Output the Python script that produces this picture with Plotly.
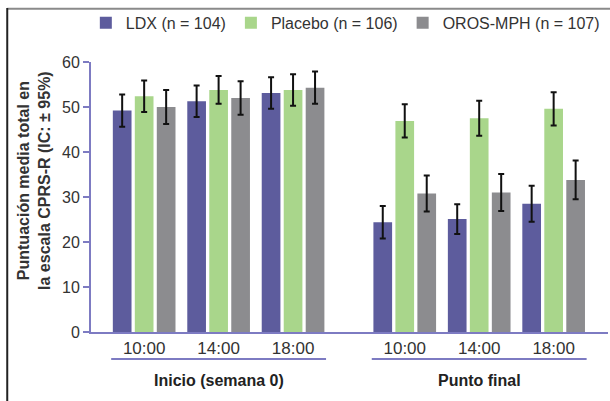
import plotly.graph_objects as go

# ---- data ----
groups = ["Inicio (semana 0)", "Punto final"]
times = ["10:00", "14:00", "18:00"]
series_names = ["LDX (n = 104)", "Placebo (n = 106)", "OROS-MPH (n = 107)"]
ldx = [49.2, 51.3, 53.1, 24.4, 25.1, 28.5]
ldx_err = [3.6, 3.5, 3.5, 3.6, 3.3, 4.0]
placebo = [52.4, 53.8, 53.8, 46.9, 47.5, 49.6]
placebo_err = [3.5, 3.1, 3.5, 3.7, 3.9, 3.7]
oros = [50.0, 52.0, 54.3, 30.8, 31.0, 33.8]
oros_err = [3.8, 3.7, 3.6, 4.0, 4.1, 4.3]
y_ticks = [0, 10, 20, 30, 40, 50, 60]

# ---- styles ----
colors = ["#5d5c9d", "#a9d68b", "#8c8c8f"]
axis_col = "#7d7bc2"
font_fam = "Liberation Sans, Arial, sans-serif"
GROUP_STEP = 3.5

positions = [gi * GROUP_STEP + ti for gi in range(len(groups)) for ti in range(len(times))]
ticktext = [t for _ in groups for t in times]

fig = go.Figure()
for name, vals, errs, col in zip(series_names, [ldx, placebo, oros],
                                 [ldx_err, placebo_err, oros_err], colors):
    fig.add_trace(go.Bar(
        x=positions, y=vals, name=name, marker=dict(color=col, line=dict(width=0)),
        error_y=dict(type="data", array=errs, visible=True, color="#111111",
                     thickness=2, width=3),
    ))

half = 0.443
for gi, g in enumerate(groups):
    gpos = positions[gi * len(times):(gi + 1) * len(times)]
    fig.add_shape(type="line", xref="x", yref="paper",
                  x0=gpos[0] - half, x1=gpos[-1] + half, y0=-0.1, y1=-0.1,
                  line=dict(color=axis_col, width=2))
    fig.add_annotation(x=(gpos[0] + gpos[-1]) / 2, xref="x", y=-0.178, yref="paper",
                       text="<b>" + g + "</b>", showarrow=False,
                       font=dict(size=16, color="#222", family=font_fam),
                       xanchor="center", yanchor="middle")

fig.add_annotation(x=-0.11, xref="paper", y=0.56, yref="paper",
                   text="<b>Puntuación media total en<br>la escala CPRS-R (IC: ± 95%)</b>",
                   textangle=-90, showarrow=False,
                   font=dict(size=16, color="#333", family=font_fam),
                   xanchor="center", yanchor="middle")

# frame lines
fig.add_shape(type="line", xref="paper", yref="paper", x0=-0.162, x1=1.01,
              y0=1.197, y1=1.197, line=dict(color="#8a8a8a", width=2))
fig.add_shape(type="line", xref="paper", yref="paper", x0=-0.162, x1=-0.162,
              y0=1.2, y1=-0.3, line=dict(color="#222", width=2))

fig.update_layout(
    width=610, height=401,
    margin=dict(l=91, r=2, t=62, b=69),
    paper_bgcolor="white", plot_bgcolor="white",
    barmode="group", bargap=0.114, bargroupgap=0.15,
    font=dict(family=font_fam, color="#333"),
    showlegend=True,
    legend=dict(orientation="h", x=-0.01, y=1.145, xanchor="left", yanchor="middle",
                font=dict(size=16, color="#333"), itemwidth=30,
                traceorder="normal", bgcolor="rgba(0,0,0,0)", tracegroupgap=0),
    xaxis=dict(range=[-0.714, 6.23], tickvals=positions, ticktext=ticktext,
               showgrid=False, zeroline=False, showline=True, linecolor=axis_col,
               linewidth=2, ticks="", tickfont=dict(size=17, color="#333")),
    yaxis=dict(range=[0, 60], tickvals=y_ticks, showgrid=False, zeroline=False,
               showline=True, linecolor=axis_col, linewidth=2, ticks="outside",
               ticklen=6, tickwidth=2, tickcolor=axis_col,
               tickfont=dict(size=16, color="#333")),
)

fig.write_html("out.html")
